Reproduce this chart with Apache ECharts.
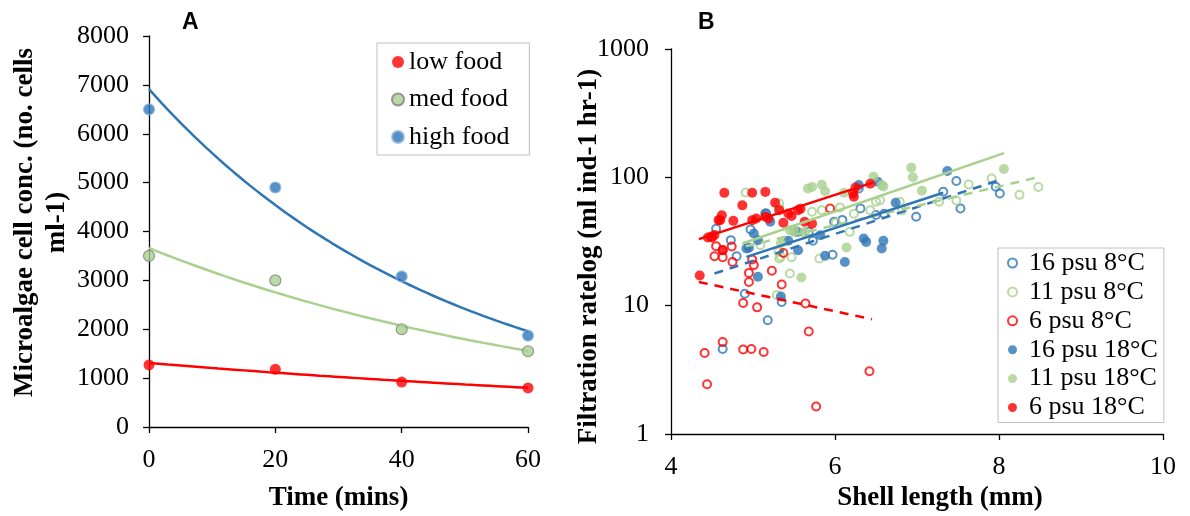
<!DOCTYPE html>
<html>
<head>
<meta charset="utf-8">
<script src="https://cdn.jsdelivr.net/npm/echarts@6/dist/echarts.min.js"></script>
<style>
  html, body { margin: 0; padding: 0; background: #fff; }
  #chart { width: 1190px; height: 516px; }
</style>
</head>
<body>
<div id="chart"></div>
<script>
// Panel A: microalgae concentration over time at three food levels
const timeMins = [0, 20, 40, 60];
const lowFood = [1270, 1180, 920, 800];
const medFood = [3500, 3000, 2000, 1550];
const highFood = [6500, 4900, 3080, 1870];

// Panel B: filtration rate vs shell length, [shell length mm, rate]
const psu16_8C = [[4.55,39.7],[4.63,4.6],[4.73,32.4],[4.80,24.3],[4.90,12.4],[4.97,39.2],[5.18,7.7],[5.35,10.7],[5.16,52.3],[5.68,37.6],[5.73,32],[5.97,24.9],[5.99,45],[6.09,46.6],[6.29,81.9],[6.31,57.2],[6.50,50.8],[6.60,52],[6.99,49.3],[7.32,77.2],[7.48,93.5],[7.53,57.2],[7.96,84.4],[8.01,74.9]];
const psu11_8C = [[4.91,76.2],[5.09,29.6],[5.29,12.1],[5.31,26.3],[5.32,23.3],[5.32,62.6],[5.38,32],[5.34,24],[5.45,17.8],[5.47,23.8],[5.50,37.6],[5.63,36.5],[5.72,53.9],[5.81,23.3],[5.84,55.5],[6.01,44.2],[6.06,58.3],[6.18,37.6],[6.23,52],[6.43,55.5],[6.50,64.5],[6.55,66.3],[6.79,64.5],[6.82,55.5],[7.27,64.5],[7.48,66],[7.63,88],[7.91,98],[8.25,73],[8.48,84]];
const psu6_8C = [[4.41,4.28],[4.44,2.44],[4.63,5.2],[4.88,4.55],[4.98,4.6],[5.13,4.36],[5.68,6.3],[5.77,1.64],[6.42,3.08],[4.88,10.5],[5.05,9.7],[5.64,10.4],[5.35,14.6],[5.23,18.7],[4.95,15.3],[4.95,18],[5.01,20.7],[4.99,22.9],[4.75,21.9],[4.53,24.3],[4.63,23.8],[4.55,29.1],[4.63,27.1],[4.74,28.9],[4.50,34],[5.37,25.7],[5.94,57.2]];
const psu16_18C = [[4.92,27.9],[4.95,28.3],[5.01,36.5],[5.06,32.4],[5.06,16.8],[5.15,52.3],[5.21,45],[5.34,11.8],[5.43,32],[5.55,27],[5.54,37.6],[5.82,35.4],[5.88,24.5],[6.12,21.9],[6.29,87],[6.35,33.4],[6.38,31.4],[6.52,92.3],[6.59,32],[6.57,27.9],[6.74,63.4],[7.37,112]];
const psu11_18C = [[5.32,57.2],[5.34,30.6],[5.45,38.8],[5.50,39],[5.59,16.6],[5.63,37.6],[5.67,82],[5.72,84],[5.84,87.5],[5.88,78],[6.11,75.8],[6.14,28.4],[6.47,101],[6.57,87],[6.59,85],[6.93,119],[6.95,100],[7.06,78.6],[8.06,116]];
const psu6_18C = [[4.35,17.2],[4.45,34],[4.49,34.4],[4.53,35.5],[4.58,46.4],[4.60,46.4],[4.62,50.7],[4.63,27],[4.65,75.7],[4.76,45.8],[4.87,60.5],[4.99,75.8],[5.15,77],[4.99,46.4],[5.04,47.8],[5.15,49.3],[5.19,47.8],[5.27,63.5],[5.32,55.5],[5.37,44.2],[5.43,52.3],[5.47,49.9],[5.55,55.5],[5.58,57],[5.63,45],[5.72,43.5],[6.22,75],[6.23,70.5],[6.25,83.4],[6.43,89]];

// Exponential trendline end points (straight on the log axis)
const trend16_8C = [[4.53,17.8],[8.0,95]];
const trend11_8C = [[4.91,29],[8.5,101]];
const trend6_8C = [[4.34,15.3],[6.45,7.84]];
const trend16_18C = [[4.92,24],[7.32,75.8]];
const trend11_18C = [[4.87,30.5],[8.06,154.5]];
const trend6_18C = [[4.34,33],[6.46,91]];

const BLUE = '#2e75b6', GREEN = '#a9d18e', RED = '#ff0000';
const SERIF = '"Liberation Serif", "Times New Roman", serif';

// Least-squares exponential fit y = a*e^(bx), sampled along x
function expTrend(xs, ys) {
  const n = xs.length;
  const lys = ys.map(Math.log);
  const mx = xs.reduce((s, v) => s + v, 0) / n;
  const my = lys.reduce((s, v) => s + v, 0) / n;
  let sxy = 0, sxx = 0;
  for (let i = 0; i < n; i++) { sxy += (xs[i] - mx) * (lys[i] - my); sxx += (xs[i] - mx) ** 2; }
  const b = sxy / sxx, a = Math.exp(my - b * mx);
  const pts = [];
  const x0 = Math.min(...xs), x1 = Math.max(...xs);
  for (let x = x0; x <= x1 + 1e-9; x += (x1 - x0) / 60) pts.push([x, a * Math.exp(b * x)]);
  return pts;
}
const pairs = (xs, ys) => xs.map((x, i) => [x, ys[i]]);
const plain = v => String(v);

const axisCommon = {
  axisLine: { lineStyle: { color: '#000', width: 1.3 } },
  axisTick: { inside: false, length: 6, lineStyle: { color: '#000', width: 1.3 } },
  axisLabel: { color: '#000', fontFamily: SERIF, fontSize: 26, formatter: plain },
  splitLine: { show: false },
  nameMoveOverlap: false,
  nameTextStyle: { color: '#000', fontFamily: SERIF, fontSize: 27, fontWeight: 'bold' }
};

function scatter(name, data, filled, color, xi) {
  return {
    name, type: 'scatter', xAxisIndex: xi, yAxisIndex: xi, data,
    symbol: 'circle', symbolSize: filled ? 10 : 8, z: 3,
    itemStyle: filled ? { color } : { color: 'rgba(255,255,255,0)', borderColor: color, borderWidth: 2 }
  };
}
function trend(data, color, dashed) {
  return {
    type: 'line', xAxisIndex: 1, yAxisIndex: 1, data, symbol: 'none', z: 5, silent: true,
    lineStyle: { color, width: 2.5, type: dashed ? [9, 7] : 'solid' }
  };
}

const chart = echarts.init(document.getElementById('chart'), null, { renderer: 'canvas' });
chart.setOption({
  animation: false,
  backgroundColor: '#fff',
  grid: [
    { left: 149, top: 36, width: 379, height: 391, containLabel: false, outerBoundsMode: 'none' },
    { left: 671, top: 49, width: 492, height: 385, containLabel: false, outerBoundsMode: 'none' }
  ],
  xAxis: [
    Object.assign({}, axisCommon, {
      gridIndex: 0, type: 'value', min: 0, max: 60, interval: 20,
      axisLabel: Object.assign({}, axisCommon.axisLabel, { margin: 20 }),
      name: 'Time (mins)', nameLocation: 'middle', nameGap: 58
    }),
    Object.assign({}, axisCommon, {
      gridIndex: 1, type: 'value', min: 4, max: 10, interval: 2,
      axisLabel: Object.assign({}, axisCommon.axisLabel, { margin: 20 }),
      name: 'Shell length (mm)', nameLocation: 'middle', nameGap: 51,
      nameTextStyle: Object.assign({}, axisCommon.nameTextStyle, { padding: [0, 0, 0, 46] })
    })
  ],
  yAxis: [
    Object.assign({}, axisCommon, {
      gridIndex: 0, type: 'value', min: 0, max: 8000, interval: 1000,
      axisLabel: Object.assign({}, axisCommon.axisLabel, { margin: 20 }),
      name: 'Microalgae cell conc. (no. cells\nml-1)', nameLocation: 'middle', nameRotate: 90, nameGap: 76,
      nameTextStyle: Object.assign({}, axisCommon.nameTextStyle, { lineHeight: 32, padding: [0, 0, 0, 18] })
    }),
    Object.assign({}, axisCommon, {
      gridIndex: 1, type: 'log', logBase: 10, min: 1, max: 1000,
      axisLabel: Object.assign({}, axisCommon.axisLabel, { margin: 22 }),
      minorTick: { show: false },
      name: 'Filtration ratelog (ml ind-1 hr-1)', nameLocation: 'middle', nameRotate: 90, nameGap: 68,
      nameTextStyle: Object.assign({}, axisCommon.nameTextStyle, { padding: [0, 30, 0, 0] })
    })
  ],
  legend: [
    {
      data: ['low food', 'med food', 'high food'],
      orient: 'vertical', left: 377, top: 43, width: 149,
      padding: [5, 20, 4, 14], itemGap: 9.5, itemWidth: 12, itemHeight: 12,
      borderColor: '#bfbfbf', borderWidth: 1,
      textStyle: { color: '#000', fontFamily: SERIF, fontSize: 26, lineHeight: 28 }
    },
    {
      data: ['16 psu 8°C', '11 psu 8°C', '6 psu 8°C', '16 psu 18°C', '11 psu 18°C', '6 psu 18°C'],
      orient: 'vertical', left: 998, top: 248,
      padding: [2, 6, 2, 9], itemGap: 2.9, itemWidth: 9, itemHeight: 9,
      borderColor: '#bfbfbf', borderWidth: 1,
      textStyle: { color: '#000', fontFamily: SERIF, fontSize: 26, lineHeight: 26, padding: [0, 0, 0, 7] }
    }
  ],
  graphic: [
    { type: 'text', left: 182, top: 11, style: { text: 'A', fontFamily: '"Liberation Sans", Arial, sans-serif', fontWeight: 'bold', fontSize: 23, fill: '#000' } },
    { type: 'text', left: 698, top: 11, style: { text: 'B', fontFamily: '"Liberation Sans", Arial, sans-serif', fontWeight: 'bold', fontSize: 23, fill: '#000' } }
  ],
  series: [
    // Panel A fitted curves
    { type: 'line', xAxisIndex: 0, yAxisIndex: 0, data: expTrend(timeMins, highFood), symbol: 'none', lineStyle: { color: BLUE, width: 2.5 }, silent: true, z: 2 },
    { type: 'line', xAxisIndex: 0, yAxisIndex: 0, data: expTrend(timeMins, medFood), symbol: 'none', lineStyle: { color: GREEN, width: 2.5 }, silent: true, z: 2 },
    { type: 'line', xAxisIndex: 0, yAxisIndex: 0, data: expTrend(timeMins, lowFood), symbol: 'none', lineStyle: { color: RED, width: 2.5 }, silent: true, z: 2 },
    // Panel A measurements
    { name: 'low food', type: 'scatter', xAxisIndex: 0, yAxisIndex: 0, data: pairs(timeMins, lowFood), symbolSize: 11, itemStyle: { color: RED }, z: 3 },
    { name: 'med food', type: 'scatter', xAxisIndex: 0, yAxisIndex: 0, data: pairs(timeMins, medFood), symbolSize: 11, itemStyle: { color: GREEN, borderColor: '#7f7f7f', borderWidth: 1.2 }, z: 3 },
    { name: 'high food', type: 'scatter', xAxisIndex: 0, yAxisIndex: 0, data: pairs(timeMins, highFood), symbolSize: 11, itemStyle: { color: BLUE, borderColor: '#8fb8e0', borderWidth: 1.2 }, z: 3 },
    // Panel B measurements
    scatter('16 psu 8°C', psu16_8C, false, BLUE, 1),
    scatter('11 psu 8°C', psu11_8C, false, GREEN, 1),
    scatter('6 psu 8°C', psu6_8C, false, RED, 1),
    scatter('16 psu 18°C', psu16_18C, true, BLUE, 1),
    scatter('11 psu 18°C', psu11_18C, true, GREEN, 1),
    scatter('6 psu 18°C', psu6_18C, true, RED, 1),
    // Panel B trendlines
    trend(trend16_8C, BLUE, true),
    trend(trend11_8C, GREEN, true),
    trend(trend6_8C, RED, true),
    trend(trend16_18C, BLUE, false),
    trend(trend11_18C, GREEN, false),
    trend(trend6_18C, RED, false)
  ]
});
</script>
</body>
</html>
